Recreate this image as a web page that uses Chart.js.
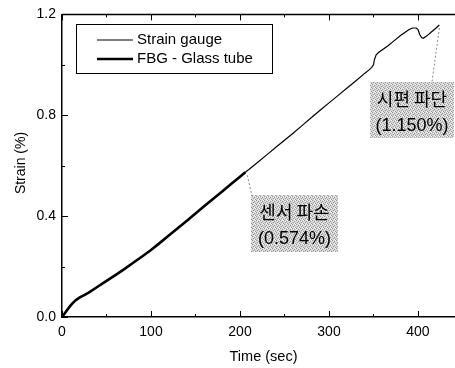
<!DOCTYPE html>
<html>
<head>
<meta charset="utf-8">
<script src="https://cdn.jsdelivr.net/npm/chart.js@4"></script>
<style>
  html, body { margin: 0; padding: 0; background: #fff; }
  #wrap { width: 455px; height: 368px; }
</style>
</head>
<body>
<div id="wrap"><canvas id="strainChart"></canvas></div>
<script>
// strain gauge record (sec, %)
const gaugeTime = [0, 2, 4, 6, 8, 10, 12, 14, 16, 18, 20, 25, 30, 40, 50, 60, 70, 80, 90, 100,
  110, 120, 130, 140, 150, 160, 170, 180, 190, 200, 206, 210, 220, 230, 240, 250, 260, 270, 280, 290,
  300, 310, 320, 330, 340, 345, 348, 350, 351, 353, 356, 360, 366, 373, 380, 386, 390, 394, 398, 400,
  402, 404, 406, 410, 415, 420, 424];
const gaugeStrain = [0, 0.009, 0.019, 0.029, 0.038, 0.047, 0.055, 0.062, 0.068, 0.073, 0.078, 0.087, 0.097, 0.12, 0.143, 0.166, 0.19, 0.215, 0.24, 0.266,
  0.294, 0.323, 0.352, 0.381, 0.41, 0.44, 0.469, 0.498, 0.527, 0.556, 0.574, 0.585, 0.614, 0.643, 0.672, 0.701, 0.73, 0.76, 0.79, 0.82,
  0.849, 0.878, 0.907, 0.936, 0.966, 0.98, 0.99, 1.0, 1.02, 1.04, 1.05, 1.06, 1.075, 1.095, 1.115, 1.13, 1.14, 1.146, 1.146, 1.14,
  1.12, 1.108, 1.105, 1.115, 1.13, 1.145, 1.158];

// FBG sensor record, ends when the sensor broke
const fbgTime = [0, 2, 4, 6, 8, 10, 12, 14, 16, 18, 20, 25, 30, 40, 50, 60, 70, 80, 90, 100,
  110, 120, 130, 140, 150, 160, 170, 180, 190, 200, 206];
const fbgStrain = [0, 0.009, 0.019, 0.029, 0.038, 0.047, 0.055, 0.062, 0.068, 0.073, 0.078, 0.087, 0.097, 0.12, 0.143, 0.166, 0.19, 0.215, 0.24, 0.266,
  0.294, 0.323, 0.352, 0.381, 0.41, 0.44, 0.469, 0.498, 0.527, 0.556, 0.574];

const seriesNames = ['Strain gauge', 'FBG - Glass tube'];
const xTickLabels = ['0', '100', '200', '300', '400'];
const yTickLabels = ['0.0', '0.4', '0.8', '1.2'];
const xTitle = 'Time (sec)';
const yTitle = 'Strain (%)';

// notes: [time, strain, line1, line2]
const sensorBreak = [206, 0.574, '센서 파손', '(0.574%)'];
const specimenBreak = [424, 1.158, '시편 파단', '(1.150%)'];

const toXY = (xs, ys) => xs.map((x, i) => ({ x: x, y: ys[i] }));
const FONT = '"Liberation Sans", Arial, sans-serif';

function grayPattern(ctx) {
  const c = document.createElement('canvas');
  c.width = 4; c.height = 4;
  const g = c.getContext('2d');
  g.fillStyle = '#d4d4d4';
  g.fillRect(0, 0, 4, 4);
  g.fillStyle = '#9a9a9a';
  [[0, 0], [2, 1], [1, 2], [3, 3]].forEach(p => g.fillRect(p[0], p[1], 1, 1));
  g.fillStyle = '#f2f2f2';
  [[3, 0], [1, 1], [2, 3]].forEach(p => g.fillRect(p[0], p[1], 1, 1));
  return ctx.createPattern(c, 'repeat');
}

const decor = {
  id: 'decor',
  afterDatasetsDraw(chart) {
    const ctx = chart.ctx;
    const area = chart.chartArea;
    const xs = chart.scales.x, ys = chart.scales.y;
    ctx.save();

    // top frame line
    ctx.strokeStyle = '#000';
    ctx.lineWidth = 1.5;
    ctx.beginPath();
    ctx.moveTo(area.left, area.top);
    ctx.lineTo(area.right, area.top);
    ctx.stroke();

    // inward ticks
    ctx.lineWidth = 1;
    for (let v = 0; v <= 400; v += 50) {
      const px = Math.round(xs.getPixelForValue(v)) + 0.5;
      const len = v % 100 === 0 ? 6 : 3;
      ctx.beginPath();
      ctx.moveTo(px, area.bottom);
      ctx.lineTo(px, area.bottom - len);
      ctx.moveTo(px, area.top);
      ctx.lineTo(px, area.top + len);
      ctx.stroke();
    }
    for (let i = 0; i <= 6; i++) {
      const py = Math.round(ys.getPixelForValue(i * 0.2)) + 0.5;
      const len = i % 2 === 0 ? 6 : 3;
      ctx.beginPath();
      ctx.moveTo(area.left, py);
      ctx.lineTo(area.left + len, py);
      ctx.stroke();
    }

    // axis titles
    ctx.fillStyle = '#000';
    ctx.textBaseline = 'middle';
    ctx.textAlign = 'center';
    ctx.font = '14.5px ' + FONT;
    ctx.fillText(xTitle, 263.5, 357);
    ctx.save();
    ctx.translate(21, 163);
    ctx.rotate(-Math.PI / 2);
    ctx.font = '14px ' + FONT;
    ctx.fillText(yTitle, 0, 0);
    ctx.restore();

    // legend
    ctx.strokeStyle = '#000';
    ctx.lineWidth = 1;
    ctx.strokeRect(76.5, 24.5, 196, 49);
    ctx.font = '15px ' + FONT;
    ctx.textAlign = 'left';
    [[1.2, 40], [2.6, 59]].forEach((row, i) => {
      ctx.lineWidth = row[0];
      ctx.beginPath();
      ctx.moveTo(97, row[1]);
      ctx.lineTo(133, row[1]);
      ctx.stroke();
      ctx.fillText(seriesNames[i], 137, row[1]);
    });

    // notes
    const pat = grayPattern(ctx);
    const note = (n, box, lead) => {
      const ax = xs.getPixelForValue(n[0]);
      const ay = ys.getPixelForValue(n[1]);
      ctx.fillStyle = pat;
      ctx.fillRect(box[0], box[1], box[2], box[3]);
      ctx.strokeStyle = '#888';
      ctx.lineWidth = 1;
      ctx.setLineDash([2, 2]);
      ctx.beginPath();
      ctx.moveTo(ax + lead[0], ay + lead[1]);
      ctx.lineTo(lead[2], lead[3]);
      ctx.stroke();
      ctx.setLineDash([]);
      const cx = box[0] + box[2] / 2;
      ctx.fillStyle = '#000';
      ctx.textAlign = 'center';
      ctx.font = '18px "Noto Sans CJK KR", sans-serif';
      ctx.fillText(n[2], cx, box[1] + 17);
      ctx.font = '18px ' + FONT;
      ctx.fillText(n[3], cx, box[1] + 44);
    };
    note(sensorBreak, [251, 195, 87, 57], [2, 3, 252, 196]);
    note(specimenBreak, [370, 82, 84, 56], [0, 3, 432, 82]);

    ctx.restore();
  }
};

new Chart(document.getElementById('strainChart'), {
  type: 'line',
  data: {
    datasets: [
      {
        label: seriesNames[0],
        data: toXY(gaugeTime, gaugeStrain),
        borderColor: '#000',
        borderWidth: 1.2,
        pointRadius: 0,
        tension: 0,
        fill: false,
        order: 2
      },
      {
        label: seriesNames[1],
        data: toXY(fbgTime, fbgStrain),
        borderColor: '#000',
        borderWidth: 2.6,
        pointRadius: 0,
        tension: 0,
        fill: false,
        order: 1
      }
    ]
  },
  options: {
    responsive: true,
    maintainAspectRatio: false,
    animation: false,
    layout: { padding: { left: 0, top: 13, right: 0, bottom: 0 } },
    plugins: {
      legend: { display: false },
      tooltip: { enabled: false }
    },
    scales: {
      x: {
        type: 'linear',
        min: 0,
        max: 441.6,
        afterFit: s => { s.height = 51; },
        afterBuildTicks: s => { s.ticks = xTickLabels.map(t => ({ value: +t })); },
        ticks: {
          color: '#000',
          padding: 7,
          maxRotation: 0,
          font: { family: FONT, size: 14 },
          callback: v => String(v)
        },
        grid: { drawOnChartArea: false, drawTicks: false },
        border: { color: '#000', width: 1.5 }
      },
      y: {
        type: 'linear',
        min: 0,
        max: 1.2,
        afterFit: s => { s.width = 62; },
        afterBuildTicks: s => { s.ticks = yTickLabels.map(t => ({ value: +t })); },
        ticks: {
          color: '#000',
          padding: 6,
          font: { family: FONT, size: 14 },
          callback: v => v.toFixed(1)
        },
        grid: { drawOnChartArea: false, drawTicks: false },
        border: { color: '#000', width: 1.5 }
      }
    }
  },
  plugins: [decor]
});
</script>
</body>
</html>
